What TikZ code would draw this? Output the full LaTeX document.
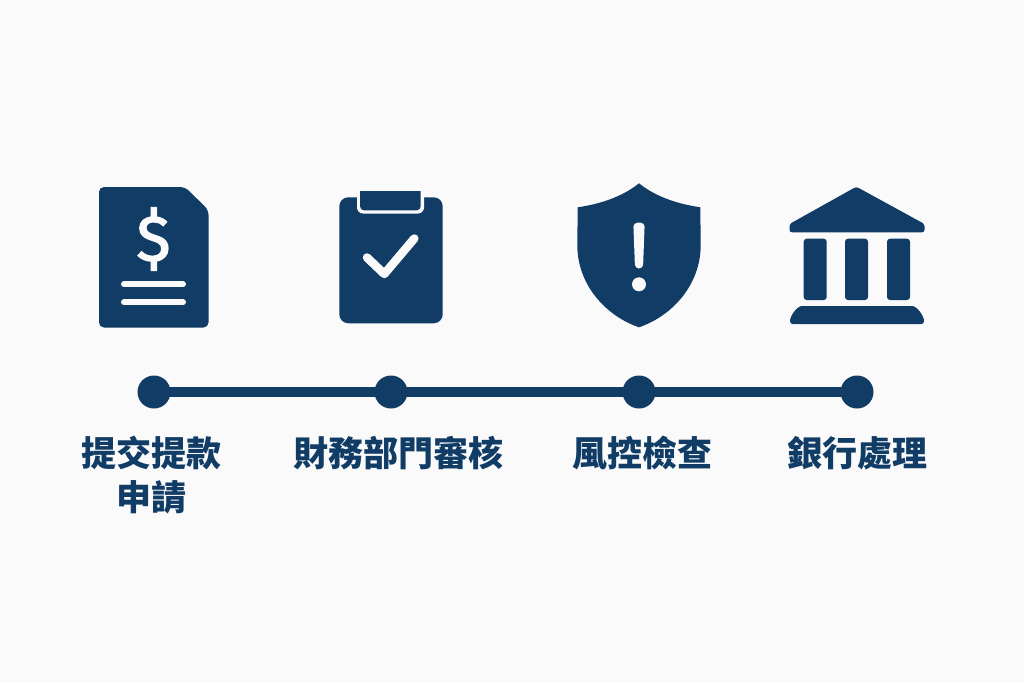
\documentclass[tikz,border=0pt]{standalone}
\usepackage{fontspec}
\newfontfamily\cjk{Noto Sans CJK TC}
\newfontfamily\iconfont{Fira Sans}[FakeBold=2.2]
\definecolor{navy}{HTML}{103C65}
\definecolor{paper}{HTML}{FAFAFB}
\tikzset{
    stepdot/.style={circle,fill=navy,minimum size=33pt,inner sep=0pt,outer sep=0pt},
    steplabel/.style={anchor=north,inner sep=0pt,align=center,text=navy,font=\cjk\bfseries\fontsize{35}{44}\selectfont},
    timeline/.style={draw=navy,line width=10pt},
    cutline/.style={draw=paper,line width=6pt,line cap=round},
    checkline/.style={draw=paper,line width=8.5pt,line cap=round,line join=round}
}

\begin{document}
\begin{tikzpicture}[x=1pt,y=-1pt]
    \useasboundingbox (0,0) rectangle (1024,683);
    \fill[paper] (0,0) rectangle (1024,683);

    % document
    \fill[navy,rounded corners=5pt] (99,187) -- (185,187) -- (208.5,210) -- (208.5,327.5) -- (99,327.5) -- cycle;
    \node[text=paper,inner sep=0pt,font=\iconfont\fontsize{64}{64}\selectfont] (dollar) at (153.5,239) {\$};
    \draw[cutline] (124,284.3) -- (183,284.3);
    \draw[cutline] (124,302.3) -- (183,302.3);

    % clipboard
    \fill[navy,rounded corners=9pt] (339.3,197.3) rectangle (442.7,323.3);
    \fill[paper,rounded corners=6pt] (357,185) rectangle (424,213.5);
    \fill[navy,rounded corners=4pt] (360,180) rectangle (420.7,210.3);
    \fill[paper] (355,180) rectangle (426,190.7);
    \draw[checkline] (367,257.5) -- (384.3,274) -- (414.3,238.5);

    % shield
    \fill[navy] (639,183.3) .. controls (622,197) and (600,204) .. (577.7,207.3) -- (577.3,245)
        .. controls (577.3,285) and (606,316) .. (639,327.3)
        .. controls (672,316) and (700.7,285) .. (700.7,245) -- (700.3,207.3)
        .. controls (678,204) and (656,197) .. (639,183.3) -- cycle;
    \fill[paper,rounded corners=4pt] (633.3,222.7) -- (644.7,222.7) -- (643,268.5) -- (635,268.5) -- cycle;
    \fill[paper] (639,284.3) circle (7);

    % bank
    \fill[navy,rounded corners=2.5pt] (856.3,186.7) -- (924.5,224) -- (924.5,232.3) -- (789.5,232.3) -- (789.5,224) -- cycle;
    \foreach \colx in {803.7,845,887}
        \fill[navy,rounded corners=3pt] (\colx,238.7) rectangle ++(23,61.3);
    \fill[navy] (802,306) -- (912,306) .. controls (917,306) and (924,316) .. (924,321)
        .. controls (924,323) and (923,324) .. (921,324) -- (793,324)
        .. controls (791,324) and (790,323) .. (790,321) .. controls (790,316) and (797,306) .. (802,306) -- cycle;

    % timeline
    \node[stepdot] (submit) at (154,392) {};
    \node[stepdot] (finance) at (391,392) {};
    \node[stepdot] (risk) at (639,392) {};
    \node[stepdot] (bank) at (857,392) {};
    \draw[timeline] (submit.center) -- (finance.center);
    \draw[timeline] (finance.center) -- (risk.center);
    \draw[timeline] (risk.center) -- (bank.center);

    \node[steplabel] (submitlabel) at (151,436) {提交提款\\申請};
    \node[steplabel] (financelabel) at (398,436) {財務部門審核};
    \node[steplabel] (risklabel) at (642,436) {風控檢查};
    \node[steplabel] (banklabel) at (857,436) {銀行處理};
\end{tikzpicture}
\end{document}
